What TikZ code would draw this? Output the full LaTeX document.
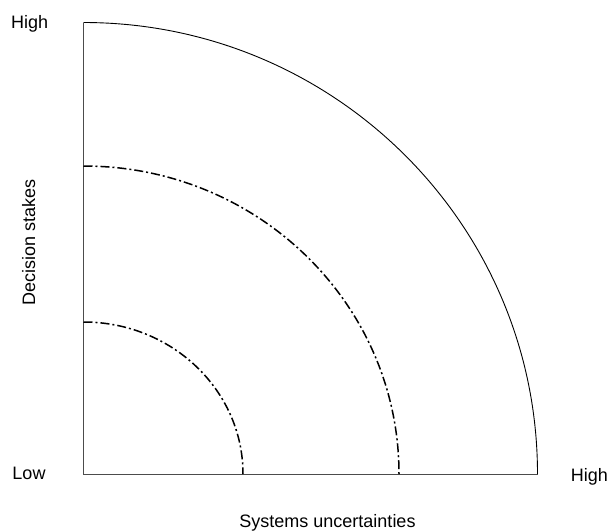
\documentclass[tikz,border=0pt]{standalone}
\usepackage{fontspec}
\setmainfont{Liberation Sans}
\begin{document}
\begin{tikzpicture}[x=1pt,y=-1pt,
  lbl/.style={font=\fontsize{18}{21}\selectfont, inner sep=0pt, anchor=base},
  axis/.style={line width=0.9pt, draw=black!70},
  ring/.style={line width=1.5pt, dash pattern=on 9pt off 3pt on 2pt off 3pt},
  outer/.style={line width=0.9pt}]
\useasboundingbox (0,0) rectangle (608,531);
\coordinate (O) at (83.5,474);
\coordinate (Ytop) at (83.5,22.5);
\coordinate (Xend) at (537.5,474);
\draw[axis] (Ytop) -- (O) -- (Xend);
\draw[outer] (Ytop) arc[start angle=90, end angle=0, x radius=454, y radius=-451.5];
\draw[ring] (83.5,166) arc[start angle=90, end angle=0, x radius=315.5, y radius=-308];
\draw[ring] (83.5,322) arc[start angle=90, end angle=0, x radius=159.5, y radius=-152];
\node[lbl] (hy) at (29.7,28.3) {High};
\node[lbl] (lo) at (29,479.3) {Low};
\node[lbl] (hx) at (589.5,481.7) {High};
\node[lbl] (xl) at (327.5,527) {Systems uncertainties};
\node[lbl, rotate=90] (yl) at (35,242) {Decision stakes};
\end{tikzpicture}
\end{document}
